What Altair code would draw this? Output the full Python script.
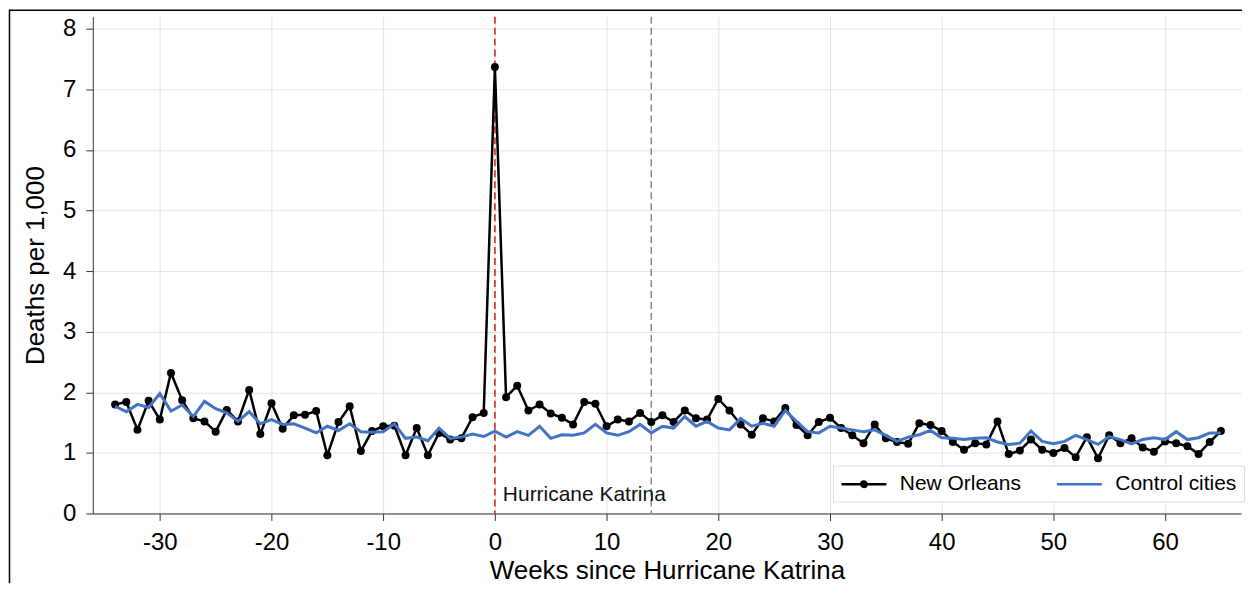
import altair as alt
import pandas as pd

weeks = list(range(-34, 66))

new_orleans = [
    1.80, 1.84, 1.38, 1.86, 1.55, 2.32, 1.87, 1.57, 1.52, 1.35,
    1.71, 1.52, 2.04, 1.31, 1.82, 1.40, 1.62, 1.63, 1.69, 0.96,
    1.51, 1.77, 1.03, 1.36, 1.44, 1.45, 0.96, 1.41, 0.96, 1.33,
    1.22, 1.24, 1.59, 1.66, 7.37, 1.92, 2.11, 1.70, 1.80, 1.65,
    1.58, 1.47, 1.84, 1.81, 1.44, 1.55, 1.52, 1.66, 1.51, 1.62,
    1.51, 1.70, 1.57, 1.55, 1.89, 1.70, 1.47, 1.30, 1.57, 1.52,
    1.74, 1.46, 1.29, 1.51, 1.58, 1.41, 1.29, 1.16, 1.47, 1.24,
    1.18, 1.15, 1.49, 1.46, 1.36, 1.18, 1.05, 1.16, 1.14, 1.52,
    0.98, 1.04, 1.22, 1.05, 1.00, 1.08, 0.93, 1.26, 0.91, 1.29,
    1.16, 1.24, 1.09, 1.02, 1.19, 1.16, 1.11, 0.98, 1.18, 1.36,
]

control_cities = [
    1.77, 1.68, 1.80, 1.75, 1.98, 1.69, 1.79, 1.60, 1.85, 1.73,
    1.66, 1.52, 1.68, 1.48, 1.55, 1.47, 1.48, 1.41, 1.33, 1.44,
    1.37, 1.48, 1.35, 1.34, 1.35, 1.48, 1.24, 1.26, 1.20, 1.41,
    1.24, 1.26, 1.31, 1.27, 1.36, 1.26, 1.35, 1.29, 1.44, 1.24,
    1.30, 1.29, 1.33, 1.47, 1.33, 1.29, 1.35, 1.47, 1.33, 1.44,
    1.41, 1.60, 1.44, 1.52, 1.41, 1.38, 1.57, 1.44, 1.49, 1.44,
    1.70, 1.52, 1.35, 1.33, 1.44, 1.41, 1.38, 1.35, 1.38, 1.29,
    1.19, 1.26, 1.30, 1.37, 1.25, 1.24, 1.22, 1.24, 1.25, 1.18,
    1.14, 1.16, 1.36, 1.19, 1.15, 1.19, 1.29, 1.22, 1.14, 1.27,
    1.22, 1.15, 1.22, 1.25, 1.22, 1.35, 1.22, 1.25, 1.33, 1.33,
]

series_names = ["New Orleans", "Control cities"]
series_colors = ["#000000", "#4472C4"]

katrina_week = [0]
end_week = [14]
annotation = ["Hurricane Katrina"]
annotation_y = [0.3]

FONT = "Liberation Sans"
W, H = 1151, 498

df = pd.DataFrame({
    "week": weeks + weeks,
    "value": new_orleans + control_cities,
    "series": [series_names[0]] * len(weeks) + [series_names[1]] * len(weeks),
})
df_no = df[df["series"] == series_names[0]]
df_cc = df[df["series"] == series_names[1]]

x_scale = alt.Scale(domain=[-36, 66.8], nice=False, zero=False)
y_scale = alt.Scale(domain=[0, 8.2], nice=False)
color_scale = alt.Scale(domain=series_names, range=series_colors)

dot_path = ("M-1,0H3.5"
            "M0.98,0A0.27,0.27,0,1,0,1.52,0A0.27,0.27,0,1,0,0.98,0Z"
            "M1.12,0A0.13,0.13,0,1,0,1.38,0A0.13,0.13,0,1,0,1.12,0Z")
line_path = "M-1,0H3.5"
shape_scale = alt.Scale(domain=series_names, range=[dot_path, line_path])

x_enc = alt.X("week:Q", scale=x_scale,
              axis=alt.Axis(title="Weeks since Hurricane Katrina", values=list(range(-30, 61, 10)),
                            labelExpr="'' + datum.value", labelPadding=10, titlePadding=3))
y_enc = alt.Y("value:Q", scale=y_scale,
              axis=alt.Axis(title="Deaths per 1,000", values=list(range(0, 9)),
                            labelExpr="'' + datum.value", labelPadding=10, titlePadding=14))

legend = alt.Legend(
    title=None,
    orient="none",
    legendX=742,
    legendY=450,
    direction="horizontal",
    symbolSize=400,
    symbolStrokeWidth=2.5,
    symbolOpacity=1,
    labelFontSize=21,
    labelFont=FONT,
    labelColor="#000000",
    labelOffset=37,
    columnPadding=30,
    padding=7,
    strokeColor="#dddddd",
    fillColor="#ffffff",
)

legend_layer = alt.Chart(df).mark_point(filled=False, opacity=0, strokeWidth=2.5).encode(
    x=x_enc, y=y_enc,
    color=alt.Color("series:N", scale=color_scale, legend=legend),
    shape=alt.Shape("series:N", scale=shape_scale, legend=legend),
)

line_no = alt.Chart(df_no).mark_line(strokeWidth=2.5).encode(
    x="week:Q", y="value:Q",
    color=alt.Color("series:N", scale=color_scale, legend=None),
)
pts_no = alt.Chart(df_no).mark_circle(size=64, opacity=1).encode(
    x="week:Q", y="value:Q",
    color=alt.Color("series:N", scale=color_scale, legend=None),
)
line_cc = alt.Chart(df_cc).mark_line(strokeWidth=3).encode(
    x="week:Q", y="value:Q",
    color=alt.Color("series:N", scale=color_scale, legend=None),
)

red_rule = alt.Chart(pd.DataFrame({"week": katrina_week})).mark_rule(
    color="#cc1f1f", strokeDash=[7, 4], strokeWidth=1.5
).encode(x="week:Q")
grey_rule = alt.Chart(pd.DataFrame({"week": end_week})).mark_rule(
    color="#888888", strokeDash=[7, 4], strokeWidth=1.5
).encode(x="week:Q")

label = alt.Chart(pd.DataFrame({"week": katrina_week, "value": annotation_y, "t": annotation})).mark_text(
    align="left", baseline="middle", dx=8, fontSize=21, font=FONT, color="#111111"
).encode(x="week:Q", y="value:Q", text="t:N")

# outer figure frame (decoration, left and top edges)
frame_top = alt.Chart(pd.DataFrame({"k": [0]})).mark_rule(color="#000000", strokeWidth=1.5).encode(
    x=alt.value(-84), x2=alt.value(W + 1), y=alt.value(-6.5)
)
frame_left = alt.Chart(pd.DataFrame({"k": [0]})).mark_rule(color="#000000", strokeWidth=1.5).encode(
    x=alt.value(-83.5), y=alt.value(-7), y2=alt.value(H + 70)
)

chart = alt.layer(frame_top, frame_left, legend_layer, red_rule, grey_rule, label,
                  line_no, pts_no, line_cc).properties(
    width=W, height=H,
    padding={"left": 0, "top": 0, "right": 0, "bottom": 0},
).configure_view(stroke=None).configure_axis(
    labelFont=FONT, titleFont=FONT,
    labelFontSize=24, titleFontSize=26,
    labelColor="#000000", titleColor="#000000",
    titleFontWeight="normal",
    gridColor="#e3e3e3", gridWidth=1,
    domainColor="#333333", tickColor="#333333",
    tickSize=7,
)

chart.save("out.html", embed_options={"renderer": "svg", "actions": False})
